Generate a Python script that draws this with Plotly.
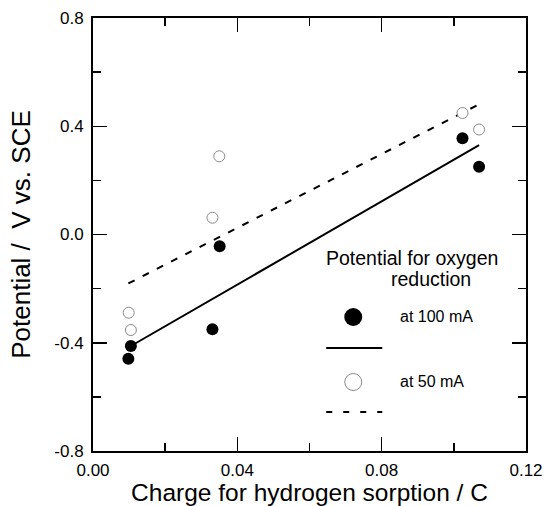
import plotly.graph_objects as go

# ---- data ----
filled_x = [0.0098, 0.0105, 0.0331, 0.0351, 0.1024, 0.1070]
filled_y = [-0.459, -0.412, -0.350, -0.043, 0.356, 0.250]
open_x = [0.0099, 0.0105, 0.0331, 0.0350, 0.1024, 0.1070]
open_y = [-0.289, -0.353, 0.062, 0.289, 0.449, 0.388]
fit100_x = [0.0105, 0.1070]
fit100_y = [-0.412, 0.330]
fit50_x = [0.0098, 0.1074]
fit50_y = [-0.181, 0.484]

x_ticks = [0.0, 0.04, 0.08, 0.12]
x_ticktext = ["0.00", "0.04", "0.08", "0.12"]
y_ticks = [-0.8, -0.4, 0.0, 0.4, 0.8]
y_ticktext = ["-0.8", "-0.4", "0.0", "0.4", "0.8"]

legend_title = ["Potential for oxygen", "reduction"]
legend_labels = ["at 100 mA", "at 50 mA"]

FONT = "Liberation Sans, Arial, sans-serif"
W, H = 544, 506
L, R, T, B = 93, 18.4, 18, 55
PW, PH = W - L - R, H - T - B


def px(x):
    return (x - L) / PW


def py(y):
    return (H - B - y) / PH


fig = go.Figure()
fig.add_trace(go.Scatter(x=fit50_x, y=fit50_y, mode="lines",
                         line=dict(color="black", width=2, dash="7px,9px"),
                         showlegend=False, hoverinfo="skip"))
fig.add_trace(go.Scatter(x=fit100_x, y=fit100_y, mode="lines",
                         line=dict(color="black", width=2),
                         showlegend=False, hoverinfo="skip"))
fig.add_trace(go.Scatter(x=open_x, y=open_y, mode="markers",
                         marker=dict(size=11, color="white",
                                     line=dict(color="#8a8a8a", width=1)),
                         showlegend=False))
fig.add_trace(go.Scatter(x=filled_x, y=filled_y, mode="markers",
                         marker=dict(size=12, color="black",
                                     line=dict(width=0)),
                         showlegend=False))

axis_common = dict(
    showline=True, linecolor="black", linewidth=2, mirror="ticks",
    ticks="inside", tickcolor="black", tickwidth=1.5, ticklen=14,
    showgrid=False, zeroline=False, automargin=False,
    tickfont=dict(family=FONT, size=17, color="black"),
    tickmode="array",
)

fig.update_xaxes(**axis_common, range=[0, 0.12], tickvals=x_ticks,
                 ticktext=x_ticktext, ticklabelstandoff=3,
                 minor=dict(ticks="inside", ticklen=8, tickwidth=1.5,
                            tickcolor="black", tick0=0, dtick=0.02),
                 title=dict(text="Charge for hydrogen sorption / C",
                            font=dict(family=FONT, size=24.5, color="black"),
                            standoff=7))
fig.update_yaxes(**axis_common, range=[-0.8, 0.8], tickvals=y_ticks,
                 ticktext=y_ticktext, ticklabelstandoff=4,
                 minor=dict(ticks="inside", ticklen=8, tickwidth=1.5,
                            tickcolor="black", tick0=0, dtick=0.2),
                 title=dict(text="Potential /  V vs. SCE",
                            font=dict(family=FONT, size=26, color="black"),
                            standoff=16))

# ---- in-plot legend ----
shapes = []
annotations = []
annotations.append(dict(x=px(412), y=py(258), xref="paper", yref="paper",
                        text=legend_title[0], showarrow=False,
                        xanchor="center", yanchor="middle",
                        font=dict(family=FONT, size=19.5, color="black")))
annotations.append(dict(x=px(431), y=py(279), xref="paper", yref="paper",
                        text=legend_title[1], showarrow=False,
                        xanchor="center", yanchor="middle",
                        font=dict(family=FONT, size=19.5, color="black")))
for lab, yy in zip(legend_labels, [317, 381]):
    annotations.append(dict(x=px(398), y=py(yy), xref="paper", yref="paper",
                            text=lab, showarrow=False,
                            xanchor="left", yanchor="middle",
                            font=dict(family=FONT, size=16, color="black")))

shapes.append(dict(type="circle", xref="paper", yref="paper",
                   xsizemode="pixel", ysizemode="pixel",
                   xanchor=px(353), yanchor=py(317),
                   x0=-9, x1=9, y0=-9, y1=9,
                   fillcolor="black", line=dict(width=0)))
shapes.append(dict(type="circle", xref="paper", yref="paper",
                   xsizemode="pixel", ysizemode="pixel",
                   xanchor=px(353), yanchor=py(382),
                   x0=-8.5, x1=8.5, y0=-8.5, y1=8.5,
                   fillcolor="white", line=dict(width=1, color="#8a8a8a")))
shapes.append(dict(type="line", xref="paper", yref="paper",
                   x0=px(326), x1=px(382), y0=py(348), y1=py(348),
                   line=dict(color="black", width=2)))
shapes.append(dict(type="line", xref="paper", yref="paper",
                   x0=px(326), x1=px(382), y0=py(412), y1=py(412),
                   line=dict(color="black", width=2, dash="6px,11px")))

fig.update_layout(
    width=W, height=H,
    margin=dict(l=L, r=R, t=T, b=B, pad=0, autoexpand=False),
    plot_bgcolor="white", paper_bgcolor="white",
    shapes=shapes, annotations=annotations,
    showlegend=False,
)

fig.write_html("out.html",
               config={"displayModeBar": False, "staticPlot": True},
               post_script="document.body.style.margin='0';"
                           "document.body.style.padding='0';"
                           "document.body.style.overflow='hidden';")
